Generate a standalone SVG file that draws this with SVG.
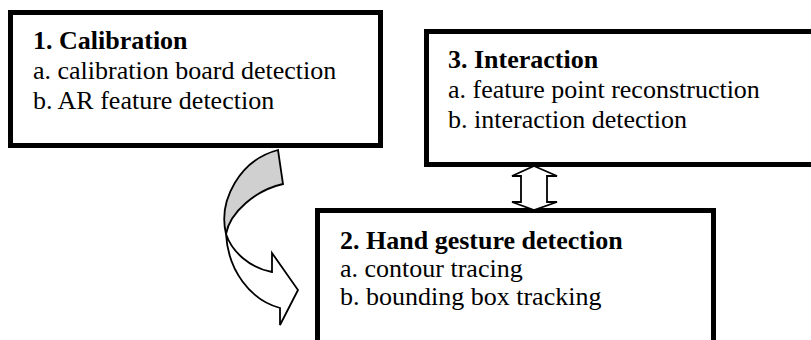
<svg xmlns="http://www.w3.org/2000/svg" width="811" height="340" viewBox="0 0 811 340">
<style>
.box{fill:#fff;stroke:#000;stroke-width:5}
.t{font-family:"Liberation Serif","Times New Roman",serif;font-size:26px;fill:#000}
.b{font-weight:bold}
.arr{stroke:#000;stroke-width:1.8;stroke-linejoin:miter}
</style>
<rect width="811" height="340" fill="#fff"/>
<g id="node1">
<rect class="box" x="10.5" y="12.5" width="370" height="133"/>
<text class="t b" x="33" y="49">1. Calibration</text>
<text class="t" x="33" y="79">a. calibration board detection</text>
<text class="t" x="33" y="109">b. AR feature detection</text>
</g>
<g id="node3">
<rect class="box" x="426.5" y="31.5" width="400" height="133"/>
<text class="t b" x="448" y="68">3. Interaction</text>
<text class="t" x="448" y="98">a. feature point reconstruction</text>
<text class="t" x="448" y="128">b. interaction detection</text>
</g>
<g id="node2">
<rect class="box" x="317.5" y="210.5" width="396" height="200"/>
<text class="t b" x="340" y="249">2. Hand gesture detection</text>
<text class="t" x="340" y="277">a. contour tracing</text>
<text class="t" x="340" y="305">b. bounding box tracking</text>
</g>
<g id="connectors">
<polygon class="arr" fill="#fff" points="534,166 557,176 547,176 547,202 557,202 534,210 512,202 521,202 521,176 512,176"/>
<path class="arr" fill="#d0d0d0" d="M278,150 C240,160 218,200 226,234 C230,212 256,190 283,184 Z"/>
<path class="arr" fill="#fff" d="M226,234 C232,252 250,268 272,272 L272,253 L298,290 L280,325 L280,308 C250,300 228,270 226,234 Z"/>
</g>
</svg>
